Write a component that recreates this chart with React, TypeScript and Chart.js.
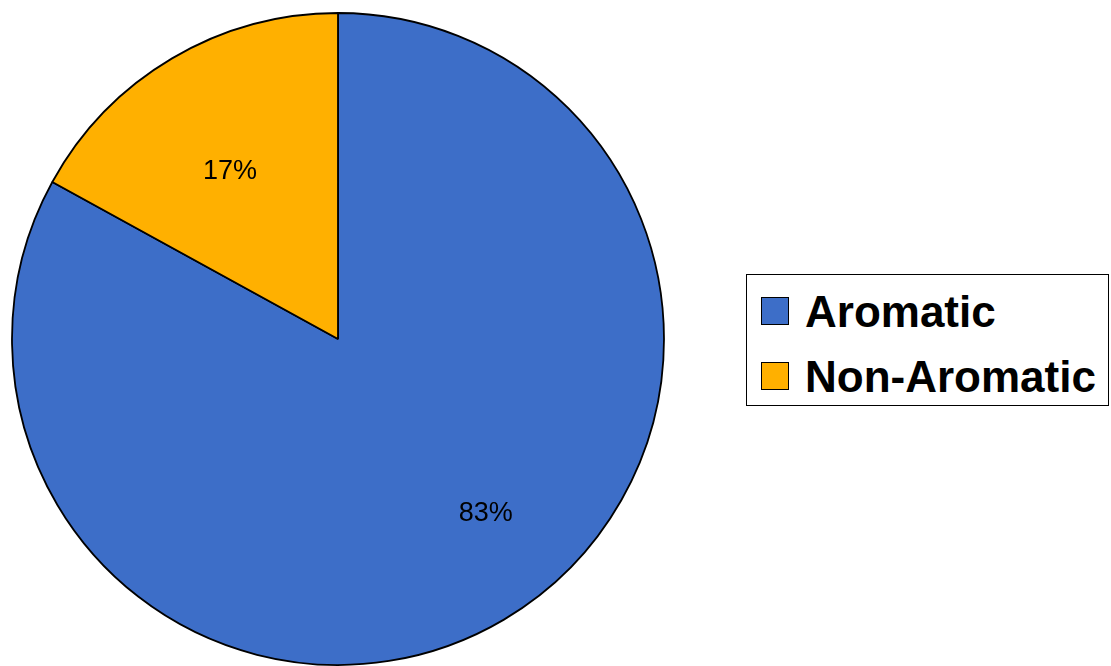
import React, { useEffect, useRef } from "react";
import { Chart, registerables } from "chart.js";

Chart.register(...registerables);

const categories = ["Aromatic", "Non-Aromatic"];
const shares = [83, 17];
const sliceColors = ["#3D6EC8", "#FFB000"];
const valueLabels = ["83%", "17%"];

const labelPlugin = {
  id: "sliceLabels",
  afterDatasetsDraw(chart: any) {
    const meta = chart.getDatasetMeta(0);
    const ctx = chart.ctx;
    const fractions = [0.7, 0.615];
    const angleShift = [-0.17, -0.035];
    ctx.save();
    ctx.font = "27px 'Liberation Sans', Arial, sans-serif";
    ctx.fillStyle = "#000";
    ctx.textAlign = "center";
    ctx.textBaseline = "middle";
    meta.data.forEach((arc: any, i: number) => {
      const p = arc.getProps(["x", "y", "startAngle", "endAngle", "outerRadius"], true);
      const mid = (p.startAngle + p.endAngle) / 2 + angleShift[i];
      const r = p.outerRadius * fractions[i];
      ctx.fillText(valueLabels[i], p.x + Math.cos(mid) * r, p.y + Math.sin(mid) * r + 1);
    });
    ctx.restore();
  },
};

export default function App() {
  const ref = useRef<HTMLCanvasElement | null>(null);
  useEffect(() => {
    document.body.style.margin = "0";
    if (!ref.current) return;
    const chart = new Chart(ref.current, {
      type: "pie",
      data: {
        labels: categories,
        datasets: [
          {
            data: shares,
            backgroundColor: sliceColors,
            borderColor: "#000",
            borderWidth: 1.8,
          },
        ],
      },
      options: {
        responsive: false,
        animation: false,
        radius: 326,
        layout: { padding: { left: 0, right: 435, top: 12, bottom: 0 } },
        plugins: {
          legend: { display: false },
          tooltip: { enabled: false },
        },
      } as any,
      plugins: [labelPlugin],
    });
    return () => chart.destroy();
  }, []);

  return (
    <div style={{ position: "relative", width: 1111, height: 666, background: "#fff", overflow: "hidden" }}>
      <canvas ref={ref} width={1111} height={666} style={{ position: "absolute", left: 0, top: 0 }} />
      <div
        style={{
          position: "absolute",
          left: 746,
          top: 274,
          width: 361,
          height: 130,
          border: "1.5px solid #000",
          background: "#fff",
          fontFamily: "'Liberation Sans', Arial, sans-serif",
        }}
      >
        {categories.map((c, i) => (
          <React.Fragment key={c}>
            <div
              style={{
                position: "absolute",
                left: 14,
                top: 22 + i * 65,
                width: 26,
                height: 26,
                background: sliceColors[i],
                border: "1.5px solid #000",
              }}
            />
            <div
              style={{
                position: "absolute",
                left: 58,
                top: 15 + i * 65,
                fontSize: 44,
                lineHeight: "44px",
                fontWeight: "bold",
                whiteSpace: "nowrap",
                color: "#000",
              }}
            >
              {c}
            </div>
          </React.Fragment>
        ))}
      </div>
    </div>
  );
}
